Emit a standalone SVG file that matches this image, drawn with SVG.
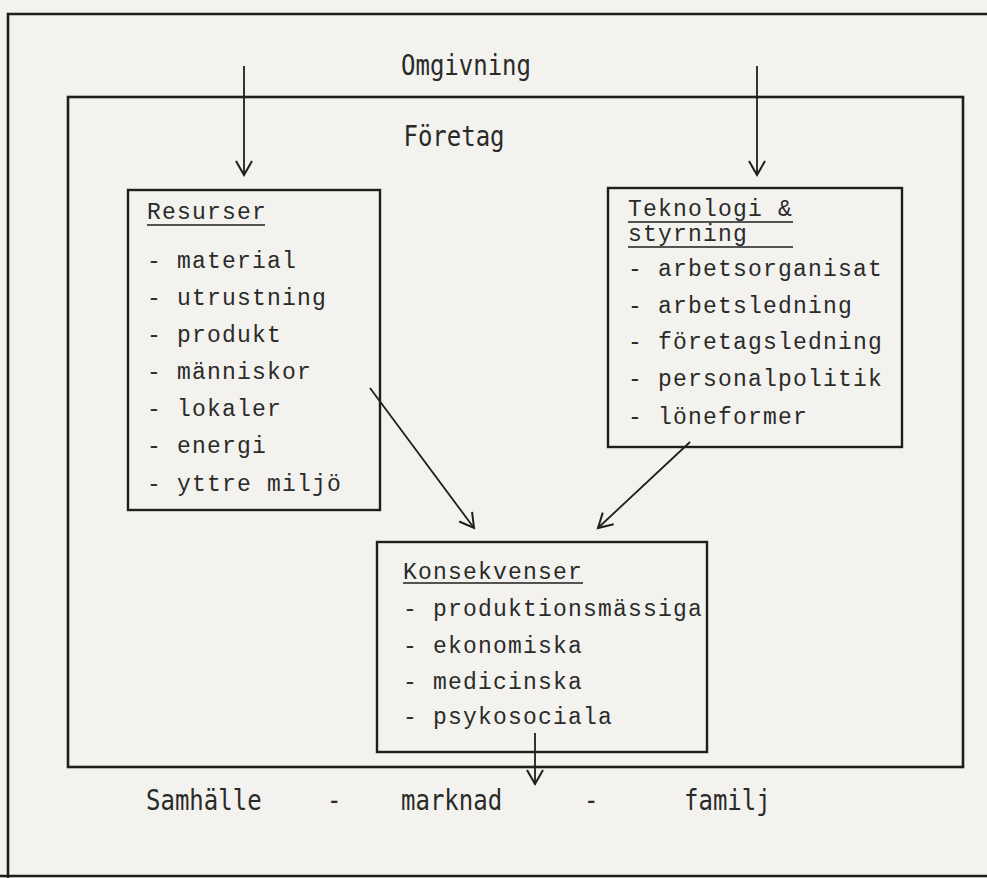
<svg xmlns="http://www.w3.org/2000/svg" width="987" height="878" viewBox="0 0 987 878">
<defs>
<marker id="ah" markerUnits="userSpaceOnUse" markerWidth="22" markerHeight="22" refX="15" refY="9" orient="auto">
<path d="M1,1 L15,9 L1,17" fill="none" stroke="#1e1e1e" stroke-width="2"/>
</marker>
<style>
.frame{fill:none;stroke:#1e1e1e;stroke-width:2.6}
.box{fill:none;stroke:#1e1e1e;stroke-width:2.4}
.conn{fill:none;stroke:#1e1e1e;stroke-width:1.8;marker-end:url(#ah)}
.ul{stroke:#1e1e1e;stroke-width:1.6}
.lab{font-family:"DejaVu Sans Mono","Liberation Mono",monospace;font-size:24px;fill:#2a2a2a}
.t{font-family:"Liberation Mono","DejaVu Sans Mono",monospace;font-size:23px;letter-spacing:1.2px;fill:#2a2a2a}
</style>
</defs>
<rect width="987" height="878" fill="#f3f2ee"/>
<g id="omgivning">
<path class="frame" d="M8,878 L8,14 L987,14"/>
<line class="frame" x1="0" y1="876" x2="987" y2="876"/>
<text class="lab" transform="translate(466,75) scale(1,1.15)" text-anchor="middle">Omgivning</text>
</g>
<g id="foretag">
<rect class="frame" x="68" y="97" width="895" height="670"/>
<text class="lab" transform="translate(454,146) scale(1,1.15)" text-anchor="middle">Företag</text>
</g>
<g id="resurser">
<rect class="box" x="128" y="190" width="252" height="320"/>
<text class="t" x="147" y="219">Resurser</text>
<line class="ul" x1="147" y1="225" x2="265" y2="225"/>
<text class="t" x="147" y="268">- material</text>
<text class="t" x="147" y="305">- utrustning</text>
<text class="t" x="147" y="342">- produkt</text>
<text class="t" x="147" y="379">- människor</text>
<text class="t" x="147" y="416">- lokaler</text>
<text class="t" x="147" y="453">- energi</text>
<text class="t" x="147" y="491">- yttre miljö</text>
</g>
<g id="teknologi">
<rect class="box" x="608" y="188" width="294" height="259"/>
<text class="t" x="628" y="216">Teknologi &amp;<tspan x="628" y="241">styrning</tspan></text>
<line class="ul" x1="628" y1="222" x2="793" y2="222"/>
<line class="ul" x1="628" y1="247" x2="793" y2="247"/>
<text class="t" x="628" y="276">- arbetsorganisat</text>
<text class="t" x="628" y="313">- arbetsledning</text>
<text class="t" x="628" y="349">- företagsledning</text>
<text class="t" x="628" y="386">- personalpolitik</text>
<text class="t" x="628" y="424">- löneformer</text>
</g>
<g id="konsekvenser">
<rect class="box" x="377" y="542" width="330" height="210"/>
<text class="t" x="403" y="579">Konsekvenser</text>
<line class="ul" x1="403" y1="583" x2="583" y2="583"/>
<text class="t" x="403" y="616">- produktionsmässiga</text>
<text class="t" x="403" y="653">- ekonomiska</text>
<text class="t" x="403" y="689">- medicinska</text>
<text class="t" x="403" y="724">- psykosociala</text>
</g>
<g id="samhalle">
<text class="lab" transform="translate(146,810) scale(1,1.15)">Samhälle</text>
<text class="lab" transform="translate(327,810) scale(1,1.15)">-</text>
<text class="lab" transform="translate(401,810) scale(1,1.15)">marknad</text>
<text class="lab" transform="translate(584,810) scale(1,1.15)">-</text>
<text class="lab" transform="translate(684,810) scale(1,1.15)">familj</text>
</g>
<g id="connectors">
<line class="conn" x1="244" y1="66" x2="244" y2="175"/>
<line class="conn" x1="757" y1="66" x2="757" y2="175"/>
<line class="conn" x1="370" y1="388" x2="474" y2="528"/>
<line class="conn" x1="690" y1="442" x2="598" y2="528"/>
<line class="conn" x1="535" y1="733" x2="535" y2="784"/>
</g>
</svg>
